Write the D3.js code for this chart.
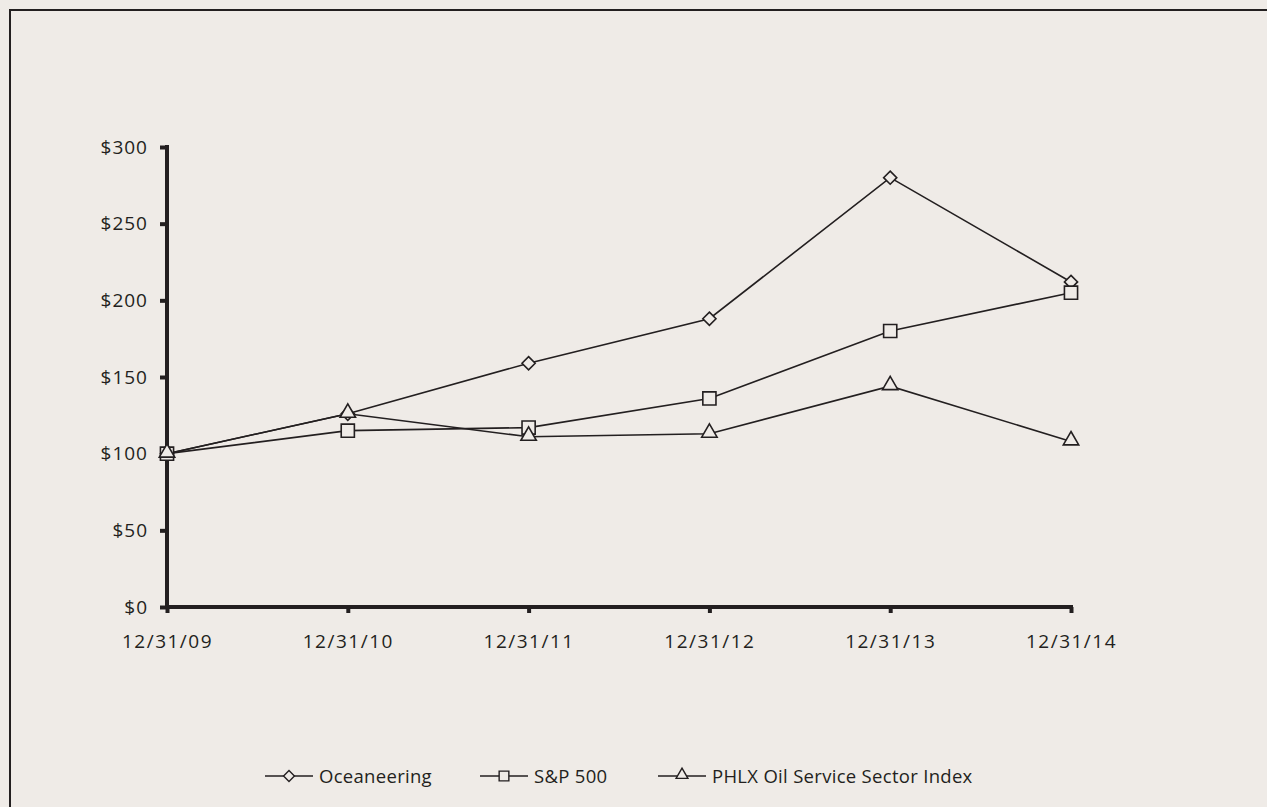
<!DOCTYPE html>
<html><head><meta charset="utf-8">
<script src="https://cdn.jsdelivr.net/npm/d3@7"></script>
<style>
html,body{margin:0;padding:0;background:#efebe7;}
svg{display:block;}
text{font-family:"Open Sans","Noto Sans",sans-serif;fill:#231f20;}
</style></head>
<body>
<script>
const categories = ["12/31/09","12/31/10","12/31/11","12/31/12","12/31/13","12/31/14"];
const oceaneering = [100,126,159,188,280,212];
const sp500 = [100,115,117,136,180,205];
const phlx = [100,126,111,113,144,108];
const yTicks = [0,50,100,150,200,250,300];
const seriesNames = ["Oceaneering","S&P 500","PHLX Oil Service Sector Index"];
const seriesMarkers = ["diamond","square","triangle"];

const W=1267,H=807;
const svg=d3.select("body").append("svg").attr("width",W).attr("height",H);
svg.append("rect").attr("width",W).attr("height",H).attr("fill","#efebe7");
svg.append("path").attr("d","M10,807V10H1267").attr("fill","none").attr("stroke","#231f20").attr("stroke-width",2);

const x=d3.scalePoint().domain(categories).range([167,1071]);
const y=d3.scaleLinear().domain([0,300]).range([607,147]);
const ink="#231f20";

const ya=svg.append("g").attr("transform","translate(167,0)")
  .call(d3.axisLeft(y).tickValues(yTicks).tickFormat(d=>"$"+d).tickSize(7).tickPadding(12));
ya.select(".domain").attr("stroke",ink).attr("stroke-width",4).attr("d","M0,145V609");
ya.selectAll(".tick line").attr("stroke",ink).attr("stroke-width",4);
ya.selectAll(".tick text").attr("font-size",19).attr("letter-spacing",1).attr("fill",ink).attr("font-family",'"Open Sans",sans-serif');

const xa=svg.append("g").attr("transform","translate(0,607)")
  .call(d3.axisBottom(x).tickSize(6).tickPadding(22));
xa.select(".domain").attr("stroke",ink).attr("stroke-width",4).attr("d","M165,0H1073");
xa.selectAll(".tick line").attr("stroke",ink).attr("stroke-width",4);
xa.selectAll(".tick text").attr("font-size",19).attr("letter-spacing",1.5).attr("fill",ink).attr("font-family",'"Open Sans",sans-serif');

const types={diamond:d3.symbolDiamond2,square:d3.symbolSquare2,triangle:d3.symbolTriangle2};
const sizes={diamond:110,square:220,triangle:170};
const series=[oceaneering,sp500,phlx];
const line=d3.line().x((d,i)=>x(categories[i])).y(d=>y(d));
[0,1,2].forEach(k=>{
  svg.append("path").attr("d",line(series[k])).attr("fill","none").attr("stroke",ink).attr("stroke-width",1.6);
});
[0,1,2].forEach(k=>{
  const m=seriesMarkers[k];
  const sym=d3.symbol().type(types[m]).size(sizes[m]);
  series[k].forEach((v,i)=>{
    const dy = m==="triangle"?-1:0;
    svg.append("path").attr("d",sym())
      .attr("transform",`translate(${x(categories[i])},${y(v)+dy})`)
      .attr("fill","#efebe7").attr("stroke",ink).attr("stroke-width",1.6);
  });
});

const legX=[265,480,658];
const legY=776;
seriesNames.forEach((n,k)=>{
  const m=seriesMarkers[k];
  const g=svg.append("g").attr("transform",`translate(${legX[k]},${legY})`);
  g.append("line").attr("x1",0).attr("x2",48).attr("y1",0).attr("y2",0).attr("stroke",ink).attr("stroke-width",1.6);
  const sym=d3.symbol().type(types[m]).size({diamond:75,square:120,triangle:100}[m]);
  g.append("path").attr("d",sym()).attr("transform",`translate(24,${m==="triangle"?-1:0})`)
    .attr("fill","#efebe7").attr("stroke",ink).attr("stroke-width",1.4);
  g.append("text").attr("x",54).attr("y",7).attr("font-size",18.5).attr("letter-spacing",0.3).text(n);
});
</script>
</body></html>
